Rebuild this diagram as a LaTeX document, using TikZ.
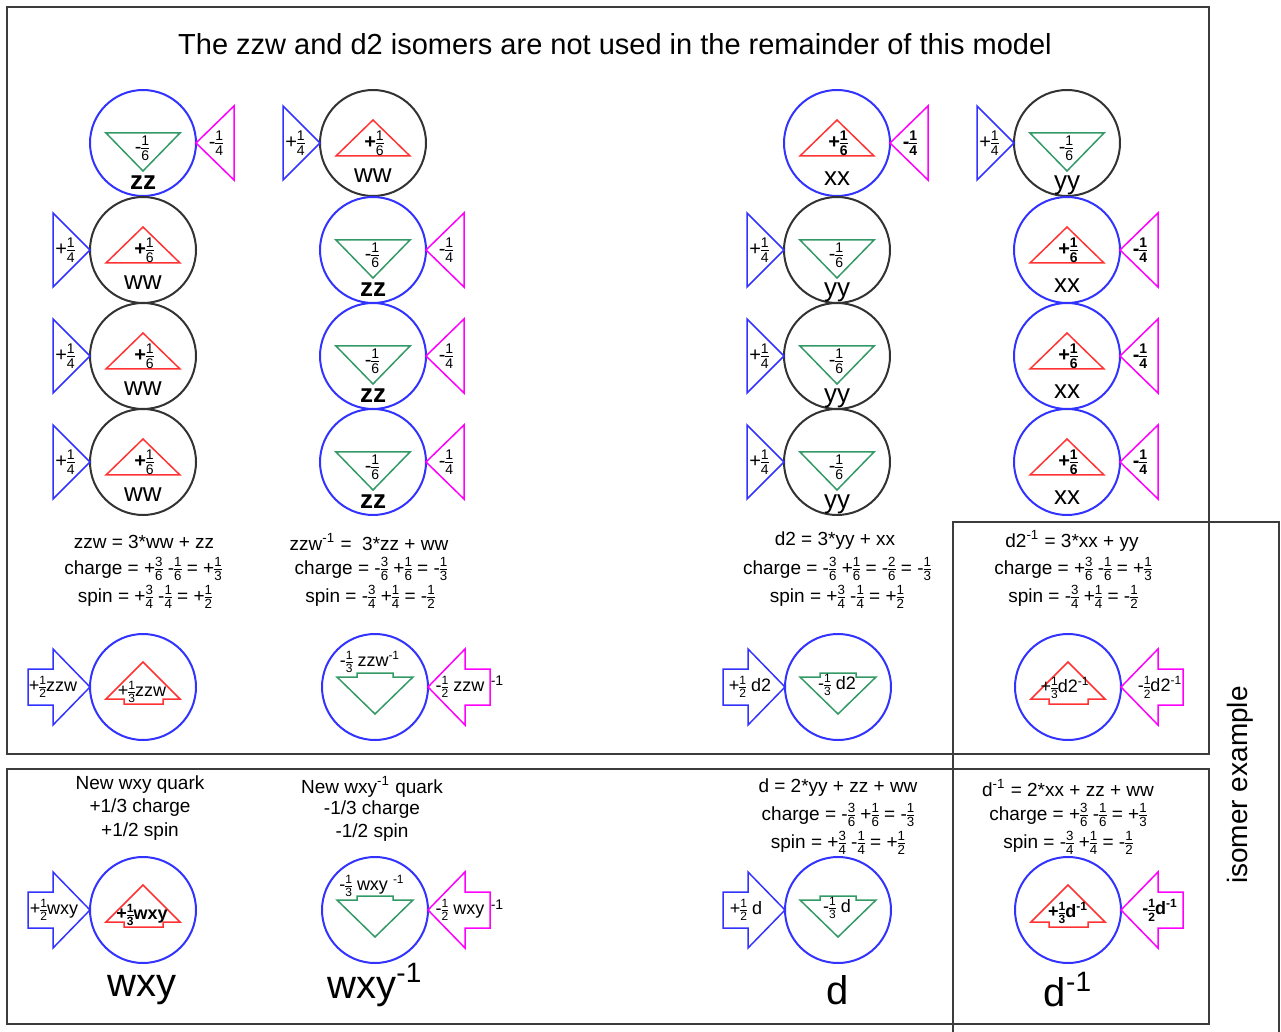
\documentclass[tikz,border=0pt]{standalone}
\usepackage{amsmath}
\usepackage{fontspec}
\setmainfont{Liberation Sans}
\usetikzlibrary{calc}
\definecolor{quarkblue}{RGB}{51,51,255}
\definecolor{quarkpink}{RGB}{255,0,255}
\definecolor{quarkred}{RGB}{255,51,51}
\definecolor{quarkgreen}{RGB}{51,153,102}
\definecolor{ballgray}{RGB}{51,51,51}
\definecolor{framegray}{RGB}{60,60,60}
\nulldelimiterspace=0pt
\newcommand\fr[2]{$\tfrac{\text{#1}}{\text{#2}}$}

\tikzset{
  ball/.style={circle,minimum size=53pt,inner sep=0pt,line width=1pt},
  pen/.style={line width=0.75pt,line join=miter},
  tag/.style={inner sep=0pt,font=\fontsize{10}{12}\selectfont},
  arrowtag/.style={inner sep=0pt,font=\fontsize{9}{11}\selectfont},
  qname/.style={inner sep=0pt,font=\fontsize{13}{15}\selectfont},
  eqline/.style={inner sep=0pt,font=\fontsize{9.5}{11}\selectfont},
  bigname/.style={inner sep=0pt,font=\fontsize{20}{23}\selectfont},
  frame/.style={draw=framegray,line width=0.8pt},
}

% shapes round a quark, #1 = centre "x,y"
\newcommand\redwedge[1]{\draw[pen,quarkred,shift={(#1)}] (0,-23) -- (37,13) -- (-37,13) -- cycle;}
\newcommand\greenwedge[1]{\draw[pen,quarkgreen,shift={(#1)}] (-37,-10) -- (37,-10) -- (0,28) -- cycle;}
\newcommand\leftpin[1]{\draw[pen,quarkblue,shift={(#1)}] (-53,0) -- (-90,-37) -- (-90,37) -- cycle;}
\newcommand\rightpin[1]{\draw[pen,quarkpink,shift={(#1)}] (53,0) -- (91,-37) -- (91,37) -- cycle;}
\newcommand\redarrow[1]{\draw[pen,quarkred,shift={(#1)}] (0,-25) -- (37,12) -- (20,12) -- (20,17) -- (-19,17) -- (-19,12) -- (-37,12) -- cycle;}
\newcommand\greenarrow[1]{\draw[pen,quarkgreen,shift={(#1)}] (-18,-14) -- (18,-14) -- (18,-10) -- (38,-10) -- (0,27) -- (-38,-10) -- (-18,-10) -- cycle;}
\newcommand\pushright[1]{\draw[pen,quarkblue,shift={(#1)}] (-53,0) -- (-90,-38) -- (-90,-18) -- (-115,-18) -- (-115,18) -- (-90,18) -- (-90,38) -- cycle;}
\newcommand\pushleft[1]{\draw[pen,quarkpink,shift={(#1)}] (53,0) -- (90,-38) -- (90,-18) -- (115,-18) -- (115,18) -- (90,18) -- (90,38) -- cycle;}

% the four small quarks, #1 = name, #2 = centre
\newcommand\qww[2]{%
  \node[ball,draw=ballgray] (#1) at (#2) {};
  \redwedge{#2}\leftpin{#2}
  \node[tag] (#1c) at ($(#1)+(1,0)$) {\textbf{+}\fr16};
  \node[tag] (#1s) at ($(#1)+(-78,0)$) {+\fr14};
  \node[qname] (#1n) at ($(#1)+(0,33)$) {ww};}
\newcommand\qzz[2]{%
  \node[ball,draw=quarkblue] (#1) at (#2) {};
  \greenwedge{#2}\rightpin{#2}
  \node[tag] (#1c) at ($(#1)+(-1,5)$) {-\fr16};
  \node[tag] (#1s) at ($(#1)+(73,0)$) {-\fr14};
  \node[qname] (#1n) at ($(#1)+(0,40)$) {\textbf{zz}};}
\newcommand\qxx[2]{%
  \node[ball,draw=quarkblue] (#1) at (#2) {};
  \redwedge{#2}\rightpin{#2}
  \node[tag] (#1c) at ($(#1)+(1,0)$) {\textbf{+\fr16}};
  \node[tag] (#1s) at ($(#1)+(73,0)$) {\textbf{-\fr14}};
  \node[qname] (#1n) at ($(#1)+(0,36)$) {xx};}
\newcommand\qyy[2]{%
  \node[ball,draw=ballgray] (#1) at (#2) {};
  \greenwedge{#2}\leftpin{#2}
  \node[tag] (#1c) at ($(#1)+(-1,5)$) {-\fr16};
  \node[tag] (#1s) at ($(#1)+(-78,0)$) {+\fr14};
  \node[qname] (#1n) at ($(#1)+(0,42)$) {yy};}

\begin{document}
\begin{tikzpicture}[x=0.5pt,y=-0.5pt]
\useasboundingbox (0,0) rectangle (1281,1032);
% boxes
\draw[frame] (7,7) rectangle (1209,754);
\draw[frame] (7,769) rectangle (1209,1024);
\draw[frame] (953,1032) -- (953,522) -- (1279,522) -- (1279,1032);
\node[inner sep=0pt,font=\fontsize{14.5}{17}\selectfont] (title) at (615,44)
  {The zzw and d2 isomers are not used in the remainder of this model};
\node[inner sep=0pt,rotate=90,font=\fontsize{14}{16}\selectfont] (isomer) at (1240,785) {isomer example};

% zzw column
\qzz{zzA}{143,143}
\qww{wwA}{143,250}
\qww{wwB}{143,356}
\qww{wwC}{143,462}
% zzw^-1 column
\qww{wwD}{373,143}
\qzz{zzB}{373,250}
\qzz{zzC}{373,356}
\qzz{zzD}{373,462}
% d2 column
\qxx{xxA}{837,143}
\qyy{yyA}{837,250}
\qyy{yyB}{837,356}
\qyy{yyC}{837,462}
% d2^-1 column
\qyy{yyD}{1067,143}
\qxx{xxB}{1067,250}
\qxx{xxC}{1067,356}
\qxx{xxD}{1067,462}

% sums
\node[eqline] (zzwEq) at (144,542) {zzw = 3*ww + zz};
\node[eqline] (zzwCh) at (143,569) {charge = +\fr36 -\fr16 = +\fr13};
\node[eqline] (zzwSp) at (145,597) {spin = +\fr34 -\fr14 = +\fr12};
\node[eqline] (izzwEq) at (369,542) {zzw\textsuperscript{-1} =\ \ 3*zz + ww};
\node[eqline] (izzwCh) at (371,569) {charge = -\fr36 +\fr16 = -\fr13};
\node[eqline] (izzwSp) at (370,597) {spin = -\fr34 +\fr14 = -\fr12};
\node[eqline] (dtwoEq) at (835,541) {d2 = 3*yy + xx};
\node[eqline] (dtwoCh) at (837,569) {charge = -\fr36 +\fr16 = -\fr26 = -\fr13};
\node[eqline] (dtwoSp) at (837,597) {spin = +\fr34 -\fr14 = +\fr12};
\node[eqline] (idtwoEq) at (1072,541) {d2\textsuperscript{-1} = 3*xx + yy};
\node[eqline] (idtwoCh) at (1073,569) {charge = +\fr36 -\fr16 = +\fr13};
\node[eqline] (idtwoSp) at (1073,597) {spin = -\fr34 +\fr14 = -\fr12};

% isomers
\node[ball,draw=quarkblue] (zzw) at (143,687) {};
\redarrow{143,687}\pushright{143,687}
\node[arrowtag] (zzwIn) at (142,692) {+\fr13zzw};
\node[arrowtag] (zzwPush) at (53,687) {+\fr12zzw};

\node[ball,draw=quarkblue] (izzw) at (375,687) {};
\greenarrow{375,687}\pushleft{375,687}
\node[arrowtag] (izzwIn) at (370,662) {-\fr13 zzw\textsuperscript{-1}};
\node[arrowtag] (izzwPush) at (460,687) {-\fr12 zzw};
\node[arrowtag] (izzwSup) at (497,681) {\fontsize{7}{8}\selectfont -1};

\node[ball,draw=quarkblue] (dtwo) at (838,687) {};
\greenarrow{838,687}\pushright{838,687}
\node[arrowtag] (dtwoIn) at (837,685) {-\fr13 d2};
\node[arrowtag] (dtwoPush) at (750,687) {+\fr12 d2};

\node[ball,draw=quarkblue] (idtwo) at (1068,687) {};
\redarrow{1068,687}\pushleft{1068,687}
\node[arrowtag] (idtwoIn) at (1065,688) {+\fr13d2\textsuperscript{-1}};
\node[arrowtag] (idtwoPush) at (1160,687) {-\fr12d2\textsuperscript{-1}};

% new quarks
\node[eqline] (wxyA) at (140,785) {New wxy quark};
\node[eqline] (wxyB) at (140,808) {+1/3 charge};
\node[eqline] (wxyC) at (140,832) {+1/2 spin};
\node[eqline] (iwxyA) at (372,787) {New wxy\textsuperscript{-1} quark};
\node[eqline] (iwxyB) at (372,810) {-1/3 charge};
\node[eqline] (iwxyC) at (372,833) {-1/2 spin};
\node[eqline] (dEq) at (838,788) {d = 2*yy + zz + ww};
\node[eqline] (dCh) at (838,815) {charge = -\fr36 +\fr16 = -\fr13};
\node[eqline] (dSp) at (838,843) {spin = +\fr34 -\fr14 = +\fr12};
\node[eqline] (idEq) at (1068,788) {d\textsuperscript{-1} = 2*xx + zz + ww};
\node[eqline] (idCh) at (1068,815) {charge = +\fr36 -\fr16 = +\fr13};
\node[eqline] (idSp) at (1068,843) {spin = -\fr34 +\fr14 = -\fr12};

\node[ball,draw=quarkblue] (wxy) at (143,910) {};
\redarrow{143,910}\pushright{143,910}
\node[arrowtag] (wxyIn) at (142,915) {\textbf{+\fr13wxy}};
\node[arrowtag] (wxyPush) at (54,910) {+\fr12wxy};

\node[ball,draw=quarkblue] (iwxy) at (375,910) {};
\greenarrow{375,910}\pushleft{375,910}
\node[arrowtag] (iwxyIn) at (372,886) {-\fr13 wxy \textsuperscript{-1}};
\node[arrowtag] (iwxyPush) at (460,910) {-\fr12 wxy};
\node[arrowtag] (iwxySup) at (497,905) {\fontsize{7}{8}\selectfont -1};

\node[ball,draw=quarkblue] (dq) at (838,910) {};
\greenarrow{838,910}\pushright{838,910}
\node[arrowtag] (dqIn) at (837,908) {-\fr13 d};
\node[arrowtag] (dqPush) at (746,910) {+\fr12 d};

\node[ball,draw=quarkblue] (idq) at (1068,910) {};
\redarrow{1068,910}\pushleft{1068,910}
\node[arrowtag] (idqIn) at (1068,913) {\textbf{+\fr13d\textsuperscript{-1}}};
\node[arrowtag] (idqPush) at (1160,910) {\textbf{-\fr12d\textsuperscript{-1}}};

% big names
\node[bigname] (wxyName) at (142,990) {wxy};
\node[bigname] (iwxyName) at (375,985) {wxy\textsuperscript{-1}};
\node[bigname] (dName) at (838,990) {d};
\node[bigname] (idName) at (1068,990) {d\textsuperscript{-1}};
\end{tikzpicture}
\end{document}
